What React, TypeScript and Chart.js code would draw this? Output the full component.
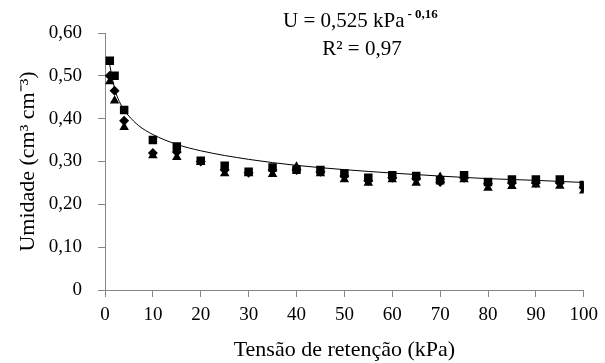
import React, { useEffect, useRef } from "react";
import { Chart, registerables } from "chart.js";

Chart.register(...registerables);

// Tensão de retenção (kPa)
const tensionKPa = [1, 2, 4, 10, 15, 20, 25, 30, 35, 40, 45, 50, 55, 60, 65, 70, 75, 80, 85, 90, 95, 100];
// Umidade (cm3 cm-3) - three repetitions
const seriesSquare = [0.535, 0.5, 0.42, 0.35, 0.335, 0.302, 0.29, 0.276, 0.286, 0.281, 0.28, 0.272, 0.262, 0.268, 0.266, 0.256, 0.268, 0.252, 0.258, 0.258, 0.258, 0.245];
const seriesDiamond = [0.5, 0.465, 0.395, 0.32, 0.322, 0.3, 0.28, 0.274, 0.28, 0.28, 0.276, 0.266, 0.255, 0.262, 0.26, 0.252, 0.262, 0.248, 0.25, 0.25, 0.25, 0.24];
const seriesTriangle = [0.487, 0.442, 0.38, 0.314, 0.31, 0.298, 0.272, 0.272, 0.27, 0.288, 0.272, 0.258, 0.25, 0.258, 0.25, 0.264, 0.258, 0.238, 0.242, 0.246, 0.243, 0.232];
// Power trend line U = 0,525 kPa^-0,16
const trendX = [1, 2, 3, 4, 5, 7, 10, 15, 20, 30, 40, 50, 60, 70, 80, 90, 100];
const trendY = [0.525, 0.47, 0.44, 0.42, 0.406, 0.384, 0.363, 0.34, 0.325, 0.305, 0.291, 0.281, 0.273, 0.266, 0.26, 0.256, 0.251];

const equationLine1 = "U = 0,525 kPa";
const equationExponent = "- 0,16";
const equationLine2 = "R² = 0,97";
const xTitle = "Tensão de retenção (kPa)";
const yTitle = "Umidade (cm³ cm⁻³)";

const FONT_FAMILY = '"Liberation Serif", "Times New Roman", serif';
const AXIS_COLOR = "#868686";

const toPoints = (xs: number[], ys: number[]) => xs.map((x, i) => ({ x, y: ys[i] }));

const equationPlugin = {
  id: "equationText",
  afterDraw(chart: any) {
    const ctx = chart.ctx;
    ctx.save();
    ctx.fillStyle = "#000";
    ctx.textBaseline = "alphabetic";
    ctx.textAlign = "left";
    ctx.font = `21px ${FONT_FAMILY}`;
    ctx.fillText(equationLine1, 283, 27);
    const w = ctx.measureText(equationLine1).width;
    ctx.font = `bold 13px ${FONT_FAMILY}`;
    ctx.fillText(equationExponent, 283 + w + 3, 18);
    ctx.font = `21px ${FONT_FAMILY}`;
    ctx.textAlign = "center";
    ctx.fillText(equationLine2, 362, 55);
    ctx.restore();
  },
};

export default function App() {
  const canvasRef = useRef<HTMLCanvasElement | null>(null);

  useEffect(() => {
    if (!canvasRef.current) return;
    const tickFont = { family: FONT_FAMILY, size: 19 };
    const titleFont = { family: FONT_FAMILY, size: 22 };
    const chart = new Chart(canvasRef.current, {
      type: "scatter",
      data: {
        datasets: [
          {
            type: "line",
            label: "Ajuste",
            data: toPoints(trendX, trendY),
            borderColor: "#000",
            borderWidth: 1,
            pointRadius: 0,
            fill: false,
            cubicInterpolationMode: "monotone",
            order: 0,
          } as any,
          {
            label: "Quadrado",
            data: toPoints(tensionKPa, seriesSquare),
            pointStyle: "rect",
            pointRadius: 6,
            backgroundColor: "#000",
            borderColor: "#000",
            borderWidth: 0,
            order: 1,
          },
          {
            label: "Losango",
            data: toPoints(tensionKPa, seriesDiamond),
            pointStyle: "rectRot",
            pointRadius: 5,
            backgroundColor: "#000",
            borderColor: "#000",
            borderWidth: 0,
            order: 2,
          },
          {
            label: "Triângulo",
            data: toPoints(tensionKPa, seriesTriangle),
            pointStyle: "triangle",
            pointRadius: 5.5,
            backgroundColor: "#000",
            borderColor: "#000",
            borderWidth: 0,
            order: 3,
          },
        ],
      },
      options: {
        responsive: false,
        animation: false,
        layout: { padding: { top: 33, right: 16, bottom: 0, left: 0 } },
        plugins: {
          legend: { display: false },
          tooltip: { enabled: false },
        },
        scales: {
          x: {
            type: "linear",
            min: 0,
            max: 100,
            ticks: { stepSize: 10, color: "#000", font: tickFont, padding: 7, maxRotation: 0 },
            grid: { display: true, drawOnChartArea: false, tickLength: 7, color: AXIS_COLOR },
            border: { color: AXIS_COLOR, width: 1 },
            title: { display: true, text: xTitle, font: titleFont, color: "#000", padding: 0 },
            afterFit: (s: any) => {
              s.height = 73;
            },
          },
          y: {
            type: "linear",
            min: 0,
            max: 0.6,
            ticks: {
              stepSize: 0.1,
              color: "#000",
              font: tickFont,
              padding: 16,
              callback: (v: any) => (Number(v) === 0 ? "0" : Number(v).toFixed(2).replace(".", ",")),
            },
            grid: { display: true, drawOnChartArea: false, tickLength: 7, color: AXIS_COLOR },
            border: { color: AXIS_COLOR, width: 1 },
            title: { display: true, text: yTitle, font: titleFont, color: "#000", padding: { top: 15, bottom: 15 } },
            afterFit: (s: any) => {
              s.width = 105;
            },
          },
        },
      },
      plugins: [equationPlugin],
    });
    return () => chart.destroy();
  }, []);

  return (
    <div style={{ position: "absolute", left: 0, top: 0, width: 605, height: 363, background: "#fff" }}>
      <canvas ref={canvasRef} width={605} height={363} style={{ display: "block" }} />
    </div>
  );
}
